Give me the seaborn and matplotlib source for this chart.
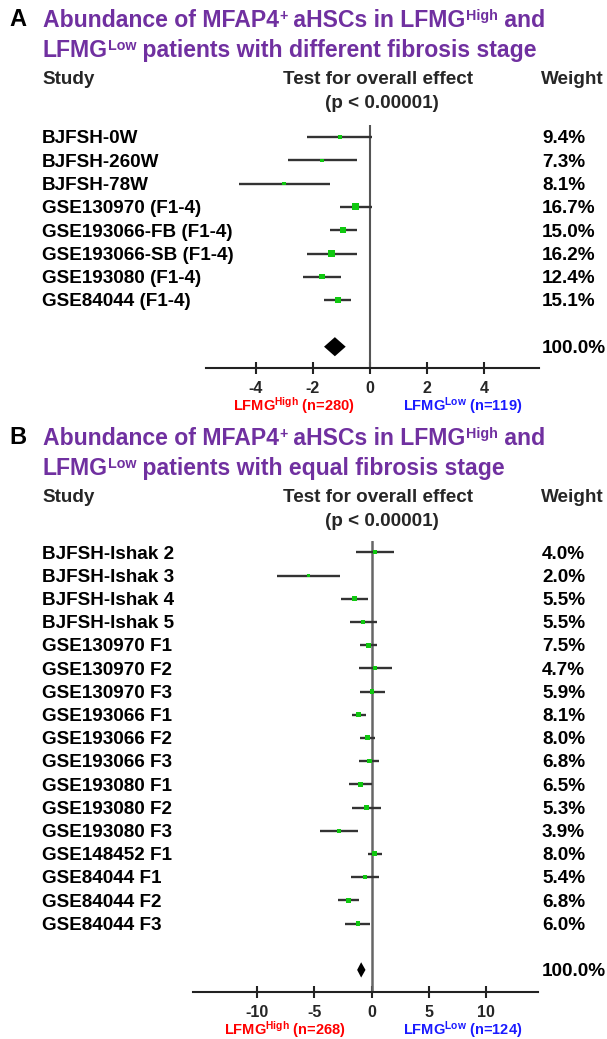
import numpy as np
import pandas as pd
import matplotlib
matplotlib.use("Agg")
import matplotlib.pyplot as plt
import matplotlib.transforms as mtrans
from matplotlib.text import Annotation
import seaborn as sns

# ---------------- data ----------------
A_studies = ["BJFSH-0W", "BJFSH-260W", "BJFSH-78W", "GSE130970 (F1-4)",
             "GSE193066-FB (F1-4)", "GSE193066-SB (F1-4)", "GSE193080 (F1-4)",
             "GSE84044 (F1-4)"]
A_est = [-1.05, -1.68, -3.01, -0.50, -0.94, -1.34, -1.68, -1.13]
A_lo = [-2.19, -2.89, -4.61, -1.04, -1.39, -2.22, -2.34, -1.61]
A_hi = [0.08, -0.47, -1.40, 0.06, -0.47, -0.47, -1.01, -0.66]
A_weight = [9.4, 7.3, 8.1, 16.7, 15.0, 16.2, 12.4, 15.1]
A_overall = [-1.23, -1.61, -0.85]
A_ticks = [-4, -2, 0, 2, 4]
A_n = [280, 119]

B_studies = ["BJFSH-Ishak 2", "BJFSH-Ishak 3", "BJFSH-Ishak 4", "BJFSH-Ishak 5",
             "GSE130970 F1", "GSE130970 F2", "GSE130970 F3", "GSE193066 F1",
             "GSE193066 F2", "GSE193066 F3", "GSE193080 F1", "GSE193080 F2",
             "GSE193080 F3", "GSE148452 F1", "GSE84044 F1", "GSE84044 F2",
             "GSE84044 F3"]
B_est = [0.24, -5.53, -1.51, -0.75, -0.32, 0.26, 0.00, -1.14, -0.35, -0.23,
         -0.99, -0.46, -2.88, 0.24, -0.58, -2.06, -1.22]
B_lo = [-1.36, -8.24, -2.71, -1.92, -1.05, -1.14, -1.07, -1.75, -0.99, -1.14,
        -1.95, -1.71, -4.51, -0.35, -1.80, -2.97, -2.32]
B_hi = [1.90, -2.76, -0.29, 0.47, 0.44, 1.72, 1.11, -0.49, 0.30, 0.67,
        0.00, 0.82, -1.22, 0.91, 0.67, -1.14, -0.14]
B_weight = [4.0, 2.0, 5.5, 5.5, 7.5, 4.7, 5.9, 8.1, 8.0, 6.8, 6.5, 5.3, 3.9,
            8.0, 5.4, 6.8, 6.0]
B_overall = [-0.93, -1.28, -0.55]
B_ticks = [-10, -5, 0, 5, 10]
B_n = [268, 124]

# rich-text pieces: (text, is_superscript)
TITLE_A = [[("Abundance of MFAP4", False), ("+", True), (" aHSCs in LFMG", False),
            ("High", True), (" and", False)],
           [("LFMG", False), ("Low", True), (" patients with different fibrosis stage", False)]]
TITLE_B = [[("Abundance of MFAP4", False), ("+", True), (" aHSCs in LFMG", False),
            ("High", True), (" and", False)],
           [("LFMG", False), ("Low", True), (" patients with equal fibrosis stage", False)]]

# ---------------- style ----------------
sns.set_theme(style="white")
plt.rcParams["font.family"] = ["Liberation Sans", "DejaVu Sans"]
plt.rcParams["font.weight"] = "bold"
plt.rcParams["mathtext.fontset"] = "custom"
plt.rcParams["mathtext.rm"] = "Liberation Sans:bold"
plt.rcParams["mathtext.bf"] = "Liberation Sans:bold"
plt.rcParams["mathtext.it"] = "Liberation Sans:bold"
plt.rcParams["mathtext.default"] = "rm"

W, H = 607, 1039
fig = plt.figure(figsize=(W / 100, H / 100), dpi=100)
fig.patch.set_facecolor("white")

PURPLE = "#7030A0"
GREEN = "#10C810"
LBL = 13.6
TITLE_FS = 16.6
TICK_FS = 11.5
GRP_FS = 10.5


def px_axes(left, top, right, bottom):
    return fig.add_axes([left / W, 1 - bottom / H, (right - left) / W, (bottom - top) / H])


def fx(x):
    return x / W


def fy(y):
    return 1 - y / H


def rich(x, yc, pieces, size, color, sup_ratio=0.62):
    """Chain text pieces left to right; superscripts smaller and raised."""
    spx = size * 100 / 72
    base = yc + 0.358 * spx
    first = fig.text(fx(x), fy(base), pieces[0][0], fontsize=size,
                     fontweight="bold", color=color, ha="left", va="baseline")
    prev = first
    for s, sup in pieces[1:]:
        fs = size * sup_ratio if sup else size
        y = base - (0.716 * (spx - fs * 100 / 72) + 1.0 if sup else 0.0)
        ann = Annotation(s, xy=(1, fy(y)), xycoords=(prev, fig.transFigure),
                         fontsize=fs, fontweight="bold", color=color,
                         ha="left", va="baseline", annotation_clip=False)
        fig.add_artist(ann)
        prev = ann


def forest(ax, studies, est, lo, hi, weight, overall, ticks, xlim, ylim,
           side_scale, side_off, dia_h, zero_lw, zero_col):
    n = len(studies)
    rows = np.arange(n)
    df = pd.DataFrame({"study": studies, "est": est, "lo": lo, "hi": hi,
                       "weight": weight, "row": rows})
    ax.set_xlim(*xlim)
    ax.set_ylim(*ylim)
    ax.axvline(0, color=zero_col, lw=zero_lw, zorder=1)
    ax.hlines(df["row"], df["lo"], df["hi"], color="#333333", lw=1.7, zorder=2)
    sizes = {w: ((side_off + side_scale * w) * 0.72) ** 2 for w in weight}
    sns.scatterplot(data=df, x="est", y="row", size="weight", sizes=sizes,
                    marker="s", color=GREEN, linewidth=0, legend=False,
                    ax=ax, zorder=3)
    drow = n + 1
    e, l, h = overall
    ax.fill([l, e, h, e], [drow, drow - dia_h, drow, drow + dia_h],
            color="black", zorder=3, lw=0)
    for s in ["top", "right", "left"]:
        ax.spines[s].set_visible(False)
    ax.spines["bottom"].set_color("#222222")
    ax.spines["bottom"].set_linewidth(1.5)
    ax.set_yticks([])
    ax.set_xticks(ticks)
    ax.set_xticklabels([str(t) for t in ticks], fontsize=TICK_FS, fontweight="bold")
    ax.tick_params(axis="x", direction="inout", length=9, width=1.5,
                   color="#222222", pad=5, bottom=True)
    ax.set_xlabel("")
    ax.set_ylabel("")
    ax.patch.set_alpha(0)

    tr = mtrans.blended_transform_factory(fig.transFigure, ax.transData)
    for i, s in enumerate(studies):
        ax.text(fx(42), i + 0.08, s, transform=tr, ha="left", va="center",
                fontsize=LBL, fontweight="bold", color="black")
        ax.text(fx(542), i + 0.08, f"{weight[i]:.1f}%", transform=tr, ha="left",
                va="center", fontsize=LBL, fontweight="bold", color="black")
    ax.text(fx(542), drow + 0.08, "100.0%", transform=tr, ha="left", va="center",
            fontsize=LBL, fontweight="bold", color="black")


def headers(letter, title, y0, n_pair, y_grp_base, red_cx, blue_cx):
    fig.text(fx(9), fy(y0), letter, fontsize=17, fontweight="bold",
             color="black", ha="left", va="center")
    rich(43, y0, title[0], TITLE_FS, PURPLE)
    rich(43, y0 + 30, title[1], TITLE_FS, PURPLE)
    fig.text(fx(42), fy(y0 + 61), "Study", fontsize=LBL, fontweight="bold",
             ha="left", va="center")
    fig.text(fx(378), fy(y0 + 61), "Test for overall effect", fontsize=LBL,
             fontweight="bold", ha="center", va="center")
    fig.text(fx(382), fy(y0 + 84), "(p < 0.00001)", fontsize=LBL,
             fontweight="bold", ha="center", va="center")
    fig.text(fx(541), fy(y0 + 61), "Weight", fontsize=LBL, fontweight="bold",
             ha="left", va="center")
    fig.text(fx(red_cx), fy(y_grp_base), f"LFMG$^{{High}}$ (n={n_pair[0]})",
             fontsize=GRP_FS, fontweight="bold", color="#FF0000", ha="center",
             va="baseline")
    fig.text(fx(blue_cx), fy(y_grp_base), f"LFMG$^{{Low}}$ (n={n_pair[1]})",
             fontsize=GRP_FS, fontweight="bold", color="#1A1AFF", ha="center",
             va="baseline")


# ---------------- panel A ----------------
rowA0, stepA = 137.0, 23.3
axA = px_axes(206, 125, 539, 368)
forest(axA, A_studies, A_est, A_lo, A_hi, A_weight, A_overall, A_ticks,
       xlim=(-5.75, 5.93),
       ylim=((368 - rowA0) / stepA, (125 - rowA0) / stepA),
       side_scale=0.40, side_off=0.2, dia_h=0.41, zero_lw=1.5, zero_col="#555555")
headers("A", TITLE_A, 19, A_n, 411, 294, 463)

# ---------------- panel B ----------------
rowB0, stepB = 552.3, 23.2
axB = px_axes(193, 541, 538, 992)
forest(axB, B_studies, B_est, B_lo, B_hi, B_weight, B_overall, B_ticks,
       xlim=(-15.6, 14.5),
       ylim=((992 - rowB0) / stepB, (541 - rowB0) / stepB),
       side_scale=0.22, side_off=3.2, dia_h=0.33, zero_lw=1.8, zero_col="#666666")
headers("B", TITLE_B, 437, B_n, 1035, 285, 463)

fig.savefig("out.png", dpi=100, facecolor="white")
